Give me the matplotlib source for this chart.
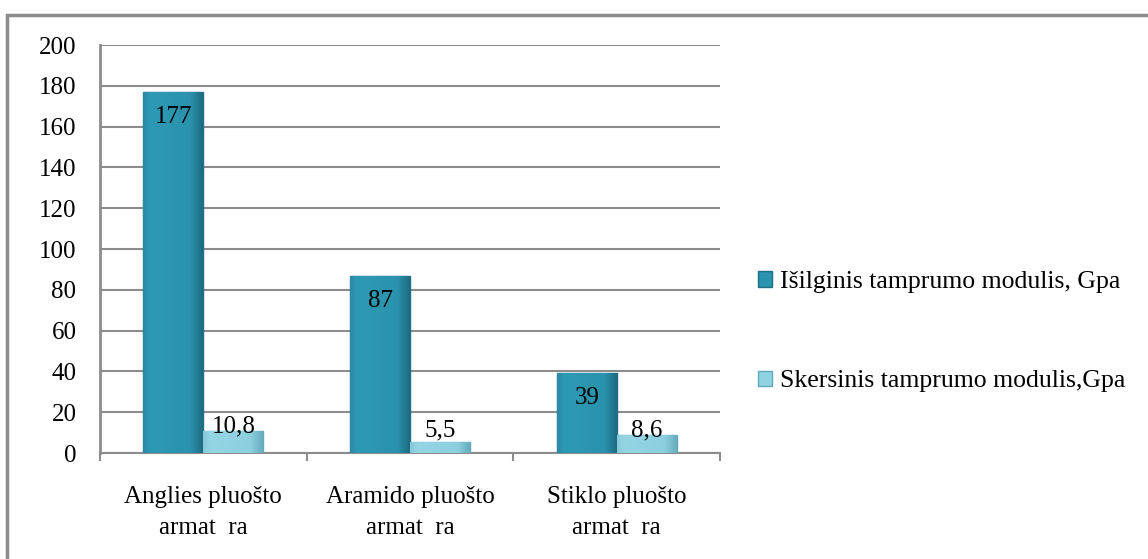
import matplotlib.pyplot as plt
from matplotlib.patches import Rectangle, Patch
from matplotlib.colors import LinearSegmentedColormap
import numpy as np

# fibre reinforcement types and their elastic moduli
categories = ["Anglies pluošto\narmat  ra", "Aramido pluošto\narmat  ra", "Stiklo pluošto\narmat  ra"]
longitudinal = [177, 87, 39]
transverse = [10.8, 5.5, 8.6]
long_labels = ["177", "87", "39"]
trans_labels = ["10,8", "5,5", "8,6"]
series_names = ["Išilginis tamprumo modulis, Gpa", "Skersinis tamprumo modulis,Gpa"]

plt.rcParams['font.family'] = ['Liberation Serif', 'DejaVu Serif']

dark = "#2a93ad"
dark_edge = "#1d6f85"
light = "#8fd2e2"
light_edge = "#5fa9bb"
grid_col = "#8c8c8c"

# bevelled look: darker rims, flat middle
dark_cmap = LinearSegmentedColormap.from_list(
    "d", [(0, "#2a8aa5"), (0.12, "#2d9ab4"), (0.8, "#2a92ac"), (1, "#1d6c82")])
light_cmap = LinearSegmentedColormap.from_list(
    "l", [(0, "#86c9d9"), (0.12, "#95d6e5"), (0.8, "#8ccfdf"), (1, "#68aebf")])

fig = plt.figure(figsize=(11.48, 5.59), dpi=100)
ax = fig.add_axes([100/1148, 1-453/559, 620/1148, 408/559])

x = np.arange(len(categories))
w = 0.29
b1 = ax.bar(x - w/2, longitudinal, w, color=dark, edgecolor=dark_edge, linewidth=1.0, zorder=3)
b2 = ax.bar(x + w/2, transverse, w, color=light, edgecolor=light_edge, linewidth=1.0, zorder=3)

# shaded fill inside each bar
grad = np.linspace(0, 1, 64).reshape(1, -1)
for bars, cmap in [(b1, dark_cmap), (b2, light_cmap)]:
    for r in bars:
        x0, y0 = r.get_x(), r.get_y()
        im = ax.imshow(grad, cmap=cmap, aspect="auto", zorder=3.5,
                       extent=[x0, x0 + r.get_width(), y0, y0 + r.get_height()])
        im.set_clip_path(r)

# value labels
for xi, v, lab in zip(x, longitudinal, long_labels):
    ax.annotate(lab, (xi - w/2, v), xytext=(0, -18), textcoords="offset points",
                ha="center", va="center", fontsize=18, zorder=5)
for xi, v, lab in zip(x, transverse, trans_labels):
    ax.annotate(lab, (xi + w/2, max(v, 9.0)), xytext=(0, 3), textcoords="offset points",
                ha="center", va="center", fontsize=18, zorder=5)

ax.set_xlim(-0.5, 2.5)
ax.set_ylim(0, 200)
ax.set_yticks(range(0, 201, 20))
ax.yaxis.grid(True, color=grid_col, linewidth=1.5, zorder=0)
ax.tick_params(axis="y", length=0, pad=17, labelsize=18)

ax.set_xticks([-0.5, 0.5, 1.5, 2.5])
ax.set_xticklabels([])
ax.set_xticks(x, minor=True)
ax.set_xticklabels(categories, minor=True, fontsize=18, linespacing=1.5)
ax.tick_params(axis="x", which="major", length=6, width=1.5, color=grid_col, direction="out")
ax.tick_params(axis="x", which="minor", length=0, pad=24)

for side in ["top", "right"]:
    ax.spines[side].set_visible(False)
ax.spines["left"].set_color(grid_col)
ax.spines["left"].set_linewidth(2)
ax.spines["bottom"].set_color(grid_col)
ax.spines["bottom"].set_linewidth(1.5)

handles = [Patch(facecolor=dark, edgecolor=dark_edge), Patch(facecolor=light, edgecolor=light_edge)]
fig.legend(handles, series_names, loc="upper left", bbox_to_anchor=(748/1148, 1-261/559),
           frameon=False, fontsize=18.5, handlelength=0.55, handleheight=0.55,
           handletextpad=0.3, labelspacing=3.0, borderaxespad=0)

# outer chart frame
fig.patches.append(Rectangle((7/1148, -0.05), 1.2, 1-15/559 + 0.05, transform=fig.transFigure,
                             fill=False, edgecolor=grid_col, linewidth=2.5))

fig.savefig("out.png", dpi=100)
